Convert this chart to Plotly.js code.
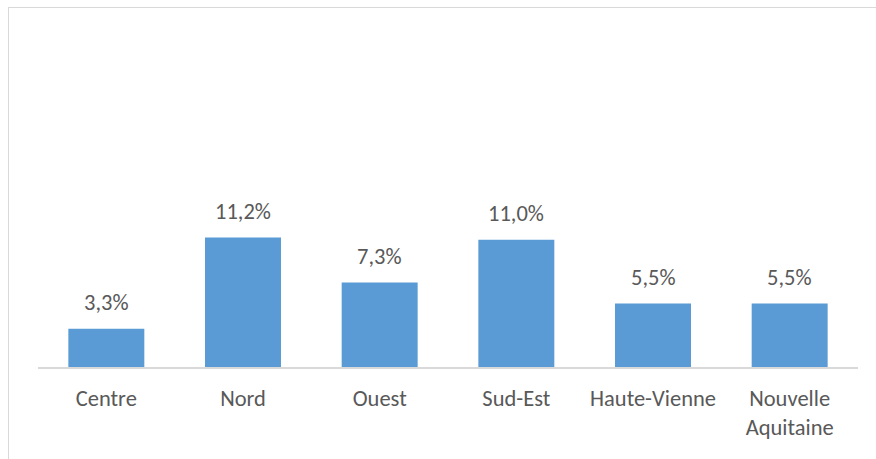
<!DOCTYPE html>
<html>
<head>
<meta charset="utf-8">
<script src="https://cdn.plot.ly/plotly-3.0.1.min.js"></script>
<style>
html,body{margin:0;padding:0;background:#fff;}
#wrap{position:relative;width:876px;height:459px;overflow:hidden;}
#chart{position:absolute;left:0;top:0;width:876px;height:459px;}
#frame{position:absolute;left:8px;top:7px;width:900px;height:500px;border-left:1.5px solid #d9d9d9;border-top:1.5px solid #d9d9d9;pointer-events:none;}
</style>
</head>
<body>
<div id="wrap"><div id="chart"></div><div id="frame"></div></div>
<script>
var categories = ["Centre", "Nord", "Ouest", "Sud-Est", "Haute-Vienne", "Nouvelle<br>Aquitaine"];
var values = [3.3, 11.2, 7.3, 11.0, 5.5, 5.5];
var valueLabels = ["3,3%", "11,2%", "7,3%", "11,0%", "5,5%", "5,5%"];

var FONT = "Calibri, Carlito, Lato, sans-serif";
var TXT = "#595959";

var trace = {
  type: "bar",
  x: categories,
  y: values,
  marker: {color: "#5b9bd5"},
  hoverinfo: "none"
};

var annotations = categories.map(function(c, i){
  return {
    x: c, y: values[i], xref: "x", yref: "y",
    text: valueLabels[i], showarrow: false,
    yanchor: "middle", yshift: 26,
    font: {family: FONT, size: 22.5, color: TXT}
  };
});

var layout = {
  width: 876, height: 459,
  margin: {l: 38, r: 18, t: 20, b: 92},
  paper_bgcolor: "rgba(0,0,0,0)",
  plot_bgcolor: "rgba(0,0,0,0)",
  bargap: 0.444,
  showlegend: false,
  separators: ", ",
  xaxis: {
    type: "category",
    showline: true, linecolor: "#d9d9d9", linewidth: 1.5,
    showgrid: false, zeroline: false, ticks: "",
    ticklabelstandoff: 10,
    tickfont: {family: FONT, size: 22.5, color: TXT}
  },
  yaxis: {
    range: [0, 30],
    showgrid: false, zeroline: false, showline: false,
    showticklabels: false, ticks: ""
  },
  annotations: annotations
};

Plotly.newPlot("chart", [trace], layout, {staticPlot: true, displayModeBar: false});
</script>
</body>
</html>
